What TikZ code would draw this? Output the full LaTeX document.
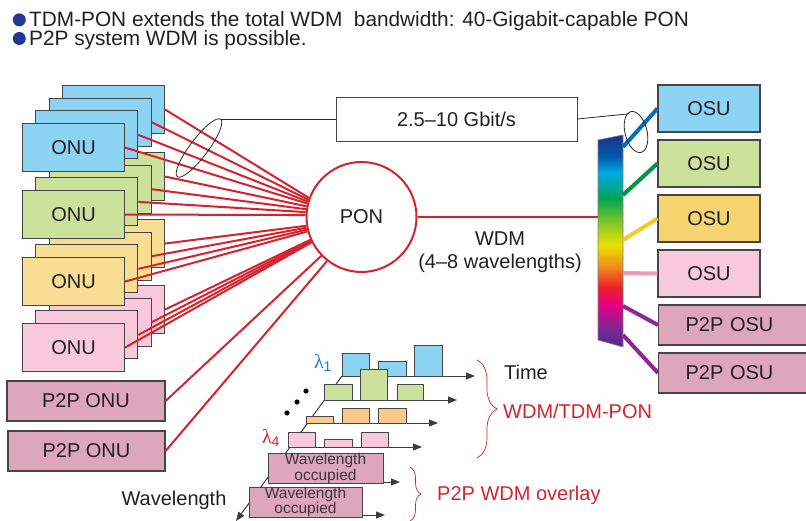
\documentclass[tikz,border=0pt]{standalone}
\usepackage{fontspec}
\setmainfont{Liberation Sans}
\newfontfamily\lamfont{Liberation Serif}
\usetikzlibrary{arrows.meta,decorations.pathreplacing,calc}
\definecolor{txt}{RGB}{35,31,32}
\definecolor{boxline}{RGB}{70,70,70}
\definecolor{blueF}{RGB}{141,211,243}
\definecolor{greenF}{RGB}{203,225,156}
\definecolor{yellowF}{RGB}{248,222,148}
\definecolor{osuY}{RGB}{247,212,112}
\definecolor{pinkF}{RGB}{248,201,218}
\definecolor{p2pF}{RGB}{222,166,187}
\definecolor{orangeF}{RGB}{252,201,140}
\definecolor{redL}{RGB}{212,35,46}
\definecolor{bulletB}{RGB}{35,55,150}
\definecolor{lamB}{RGB}{30,125,200}
\definecolor{lnB}{RGB}{0,112,190}
\definecolor{lnG}{RGB}{0,150,70}
\definecolor{lnY}{RGB}{248,200,40}
\definecolor{lnP}{RGB}{242,155,185}
\definecolor{lnV}{RGB}{140,40,145}
\definecolor{wlgray}{RGB}{60,55,58}
\definecolor{axgray}{RGB}{60,60,60}
\definecolor{specN}{RGB}{35,45,140}
\definecolor{specB}{RGB}{0,90,170}
\definecolor{specC}{RGB}{0,170,230}
\definecolor{specG}{RGB}{0,165,80}
\definecolor{specYG}{RGB}{140,200,40}
\definecolor{specY}{RGB}{235,225,0}
\definecolor{specO}{RGB}{240,140,30}
\definecolor{specR}{RGB}{235,30,40}
\definecolor{specM}{RGB}{230,0,130}
\definecolor{specV}{RGB}{120,40,150}
\definecolor{specP}{RGB}{80,40,140}
\pgfdeclareverticalshading{spectrum}{100bp}{color(0bp)=(specP); color(25bp)=(specP); color(29bp)=(specV); color(35bp)=(specM); color(39bp)=(specR); color(44bp)=(specO); color(49bp)=(specY); color(54bp)=(specYG); color(60bp)=(specG); color(66bp)=(specC); color(70bp)=(specB); color(75bp)=(specN); color(100bp)=(specN)}
\begin{document}
\begin{tikzpicture}[x=1pt,y=-1pt,
  every node/.style={inner sep=0pt, text=txt},
  ftw/.style={font=\fontsize{20}{23}\selectfont},
  boxbase/.style={draw=boxline, line width=1.1pt, inner sep=0pt, ftw},
  onu/.style={boxbase, minimum width=102pt, minimum height=48pt, anchor=north west},
  osu/.style={boxbase, minimum width=102pt, minimum height=47pt},
  p2pbox/.style={boxbase, fill=p2pF, minimum height=40pt},
  redline/.style={draw=redL, line width=2pt},
  axisline/.style={draw=axgray, line width=1pt},
  arr/.style={-{Triangle[length=9pt,width=7pt]}},
  barbox/.style={draw=boxline, line width=0.8pt},
  wlbox/.style={barbox, fill=p2pF, align=center, font=\fontsize{15.5}{13.5}\selectfont, text=wlgray},
  thinblack/.style={draw=black!85, line width=0.8pt},
]
\useasboundingbox (0,0) rectangle (806,521);

% header
\fill[bulletB] (19.3,19.8) circle (6.5pt);
\fill[bulletB] (19.3,38.5) circle (6.5pt);
\node[font=\fontsize{20.8}{23}\selectfont, anchor=base west] (hdr1) at (29,27) {TDM-PON extends the total WDM\ \ bandwidth: 40-Gigabit-capable PON};
\node[font=\fontsize{20.8}{23}\selectfont, anchor=base west] (hdr2) at (29,46) {P2P system WDM is possible.};

% ONU stacks (lower stacks first, so upper front boxes cover them)
\foreach \s/\ty/\cc in {P/323/pinkF,Y/257/yellowF,G/190/greenF,B/123/blueF}{
  \foreach \k in {3,2,1}{
    \node[onu,fill=\cc] (onu\s\k) at ({22+13.33*\k},{\ty-12.67*\k}) {};
  }
  \node[onu,fill=\cc] (onu\s0) at (22,\ty) {ONU};
}
\node[p2pbox, minimum width=158pt] (ponu1) at (86,401) {P2P ONU};
\node[p2pbox, minimum width=157pt] (ponu2) at (86.5,451) {P2P ONU};

% PON
\node[draw=redL, line width=2pt, circle, fill=white, minimum size=110pt, ftw] (PON) at (361.5,217) {PON};

\foreach \s/\aa/\ab/\ac/\ad in {B/160/162/164/166, G/169/172/175/178, Y/189/191/193/195, P/204/205/206/207}{
  \draw[redline] (onu\s3.east) -- (PON.\aa);
  \draw[redline] (onu\s2.east) -- (PON.\ab);
  \draw[redline] (onu\s1.east) -- (PON.\ac);
  \draw[redline] (onu\s0.east) -- (PON.\ad);
}
\draw[redline] (ponu1.east) -- (PON.224);
\draw[redline] (ponu2.east) -- (PON.232);

% rate box and bundle ellipses
\node[boxbase, line width=0.8pt, minimum width=241pt, minimum height=44pt] (rate) at (456.5,119) {2.5–10 Gbit/s};
\draw[thinblack, rotate around={53:(199,148)}] (199,148) ellipse [x radius=36pt, y radius=9pt];
\coordinate (ellL) at (221,119);
\coordinate (ellR) at (627,114);
\draw[thinblack] (ellL) -- (rate.west);
\draw[thinblack] (rate.east) -- (ellR);

% prism
\node[minimum width=25pt, minimum height=212pt] (prism) at (610.5,241) {};
\shade[shading=spectrum] (598,140) -- (623,135) -- (623,347) -- (598,340) -- cycle;
\draw[draw=gray, line width=0.6pt] (598,140) -- (623,135) -- (623,347) -- (598,340) -- cycle;
\coordinate (pL) at (598,217);
\draw[draw=redL, line width=1.4pt] (PON.east) -- (pL);
\node[ftw, align=center] (wdm) at (500,252) {WDM\\(4–8 wavelengths)};

% OSUs
\node[osu, fill=blueF] (osu1) at (709,108.5) {OSU};
\node[osu, fill=greenF] (osu2) at (709,163.5) {OSU};
\node[osu, fill=osuY] (osu3) at (709,218.5) {OSU};
\node[osu, fill=pinkF] (osu4) at (709,273.5) {OSU};
\node[p2pbox, anchor=west, text width=100pt, align=left, inner xsep=27pt] (posu1) at (658,325) {P2P OSU};
\node[p2pbox, anchor=west, text width=100pt, align=left, inner xsep=27pt] (posu2) at (658,373) {P2P OSU};
\coordinate (q1) at (623,147);
\coordinate (q2) at (623,195);
\coordinate (q3) at (623,240);
\coordinate (q4) at (623,273);
\coordinate (q5) at (623,306);
\coordinate (q6) at (623,335);
\draw[lnB, line width=4pt] (q1) -- (osu1.west);
\draw[lnG, line width=4pt] (q2) -- (osu2.west);
\draw[lnY, line width=4pt] (q3) -- (osu3.west);
\draw[lnP, line width=4pt] (q4) -- (osu4.west);
\draw[lnV, line width=4pt] (q5) -- (posu1.west);
\draw[lnV, line width=4pt] (q6) -- (posu2.west);
\draw[thinblack, rotate around={14:(636,132)}] (636,132) ellipse [x radius=11pt, y radius=21pt];

% chart
\draw[axisline, arr] (342,376) -- (236,521);
\draw[axisline, arr] (342,376) -- (475,376);
\draw[barbox, fill=blueF] (342,353) rectangle (369,376);
\draw[barbox, fill=blueF] (378,361) rectangle (406,376);
\draw[barbox, fill=blueF] (414,345) rectangle (442,376);
\draw[axisline, arr] (324,400) -- (457,400);
\draw[barbox, fill=greenF] (324,384) rectangle (352,400);
\draw[barbox, fill=greenF] (360,369) rectangle (387,400);
\draw[barbox, fill=greenF] (397,384) rectangle (423,400);
\draw[axisline, arr] (306,423) -- (438,423);
\draw[barbox, fill=orangeF] (306,416) rectangle (333,423);
\draw[barbox, fill=orangeF] (342,408) rectangle (369,423);
\draw[barbox, fill=orangeF] (378,408) rectangle (406,423);
\draw[axisline, arr] (288,447) -- (422,447);
\draw[barbox, fill=pinkF] (288,432) rectangle (315,447);
\draw[barbox, fill=pinkF] (324,439) rectangle (352,447);
\draw[barbox, fill=pinkF] (361,432) rectangle (388,447);
\draw[axisline, arr] (268,482) -- (400,482);
\node[wlbox, minimum width=115pt, minimum height=27pt] (wl1) at (325.5,468.5) {Wavelength\\occupied};
\draw[axisline, arr] (250,515) -- (385,515);
\node[wlbox, minimum width=113pt, minimum height=26pt] (wl2) at (305.5,502) {Wavelength\\occupied};
\fill[black] (287,413) circle (2.6pt);
\fill[black] (297,402) circle (2.6pt);
\fill[black] (306,391) circle (2.6pt);
\node[text=lamB, font=\fontsize{20}{22}\selectfont] (lam1) at (323,363) {{\lamfont λ}\textsubscript{1}};
\node[text=redL, font=\fontsize{20}{22}\selectfont] (lam4) at (271,438) {{\lamfont λ}\textsubscript{4}};
\node[ftw] (time) at (526,372) {Time};
\node[ftw] (wlax) at (174,500) {Wavelength};
\draw[draw=redL, line width=0.7pt, decorate, decoration={brace, amplitude=20pt}] (477,360) -- (477,458);
\node[ftw, text=redL, anchor=west] (wdmtdm) at (503,411) {WDM/TDM-PON};
\draw[draw=redL, line width=0.7pt, decorate, decoration={brace, amplitude=11pt}] (410,467) -- (410,521);
\node[ftw, text=redL, anchor=west] (p2pwdm) at (437,495) {P2P WDM overlay};
\end{tikzpicture}
\end{document}
